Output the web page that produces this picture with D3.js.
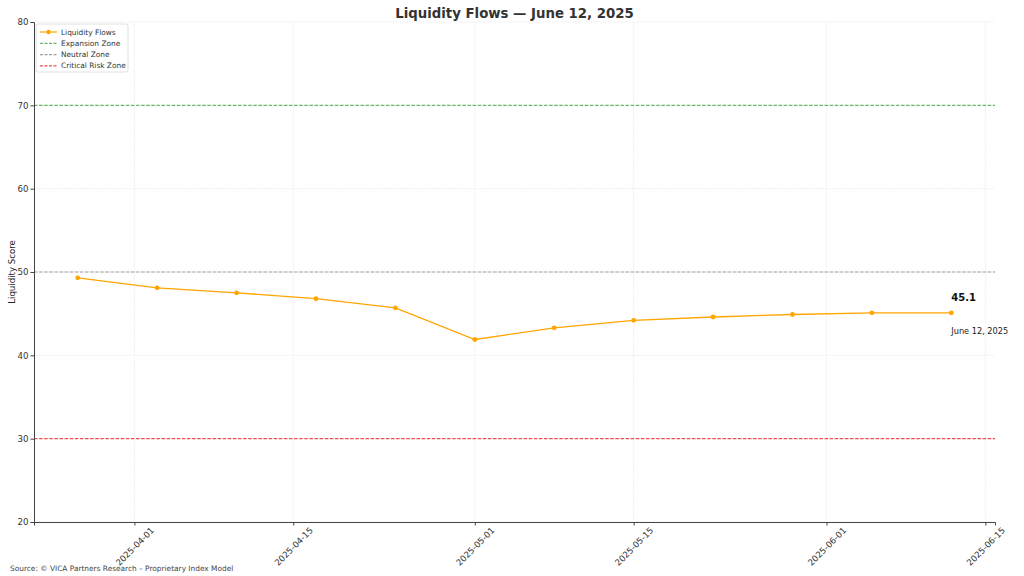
<!DOCTYPE html>
<html>
<head>
<meta charset="utf-8">
<script src="https://cdn.jsdelivr.net/npm/d3@7"></script>
<style>
  html, body { margin: 0; padding: 0; background: #fff; }
  svg { display: block; font-family: "DejaVu Sans", sans-serif; }
</style>
</head>
<body>
<svg id="chart" width="1024" height="576"></svg>
<script>
// ---- data ----
const dates = ["2025-03-27","2025-04-03","2025-04-10","2025-04-17","2025-04-24","2025-05-01",
               "2025-05-08","2025-05-15","2025-05-22","2025-05-29","2025-06-05","2025-06-12"];
const liquidity = [49.3, 48.1, 47.5, 46.8, 45.7, 41.9, 43.3, 44.2, 44.6, 44.9, 45.1, 45.1];
const xTickLabels = ["2025-04-01","2025-04-15","2025-05-01","2025-05-15","2025-06-01","2025-06-15"];
const yTicks = [20, 30, 40, 50, 60, 70, 80];
const zoneNames = ["Expansion Zone", "Neutral Zone", "Critical Risk Zone"];
const zoneValues = [70, 50, 30];
const seriesName = "Liquidity Flows";
const titleText = "Liquidity Flows — June 12, 2025";
const yLabel = "Liquidity Score";
const sourceText = "Source: © VICA Partners Research – Proprietary Index Model";
const lastValueLabel = "45.1";
const lastDateLabel = "June 12, 2025";

(function () {
// ---- layout ----
const svg = d3.select("#chart");
const pL = 34, pR = 995, pT = 22, pB = 522;
const parse = d3.utcParse("%Y-%m-%d");
const first = parse(dates[0]), last = parse(dates[dates.length - 1]);
const pad = (last - first) * 0.05;
const x = d3.scaleUtc().domain([new Date(+first - pad), new Date(+last + pad)]).range([pL, pR]);
const y = d3.scaleLinear().domain([20, 80]).range([pB, pT]);

const zoneColors = ["#66bb66", "#a0a0a0", "#ee5050"];
const lineColor = "#ffa500";

// grid
const g = svg.append("g");
g.selectAll(".vgrid").data(xTickLabels).join("line")
  .attr("x1", d => x(parse(d))).attr("x2", d => x(parse(d)))
  .attr("y1", pT).attr("y2", pB)
  .attr("stroke", "#ebebeb").attr("stroke-width", 0.8).attr("stroke-dasharray", "1.5,0.8");
g.selectAll(".hgrid").data(yTicks).join("line")
  .attr("x1", pL).attr("x2", pR)
  .attr("y1", d => y(d)).attr("y2", d => y(d))
  .attr("stroke", "#ebebeb").attr("stroke-width", 0.8).attr("stroke-dasharray", "1.5,0.8");

// zone lines
g.selectAll(".zone").data(zoneValues).join("line")
  .attr("x1", pL).attr("x2", pR)
  .attr("y1", d => y(d)).attr("y2", d => y(d))
  .attr("stroke", (d, i) => zoneColors[i]).attr("stroke-width", 1.1)
  .attr("stroke-dasharray", "3.5,1.6");

// series line
const pts = dates.map((d, i) => ({ date: parse(d), v: liquidity[i] }));
g.append("path").datum(pts)
  .attr("fill", "none").attr("stroke", lineColor).attr("stroke-width", 1.3)
  .attr("d", d3.line().x(d => x(d.date)).y(d => y(d.v)));
g.selectAll(".pt").data(pts).join("circle")
  .attr("cx", d => x(d.date)).attr("cy", d => y(d.v)).attr("r", 2.4)
  .attr("fill", lineColor);

// axes
const axisColor = "#444";
const yAxis = g.append("g").attr("transform", `translate(${pL},0)`)
  .call(d3.axisLeft(y).tickValues(yTicks).tickSize(3.5).tickPadding(2).tickFormat(d3.format("d")));
yAxis.select(".domain").attr("stroke", axisColor).attr("stroke-width", 1);
yAxis.selectAll(".tick line").attr("stroke", axisColor);
yAxis.selectAll(".tick text").attr("font-size", 8.6).attr("fill", "#333").attr("font-family", "DejaVu Sans");

const xAxis = g.append("g").attr("transform", `translate(0,${pB})`)
  .call(d3.axisBottom(x).tickValues(xTickLabels.map(parse)).tickSize(3.5).tickFormat(d3.utcFormat("%Y-%m-%d")));
xAxis.select(".domain").attr("stroke", axisColor).attr("stroke-width", 1);
xAxis.selectAll(".tick line").attr("stroke", axisColor);
xAxis.selectAll(".tick text")
  .attr("font-size", 8.6).attr("fill", "#333").attr("font-family", "DejaVu Sans")
  .attr("text-anchor", "middle").attr("dominant-baseline", "central")
  .attr("x", 0).attr("y", 0).attr("dy", null)
  .attr("transform", "translate(0,24.5) rotate(-45)");

// title
svg.append("text").attr("x", (pL + pR) / 2).attr("y", 18)
  .attr("text-anchor", "middle").attr("font-size", 13.3).attr("font-weight", "bold")
  .attr("fill", "#333").text(titleText);

// y label
svg.append("text").attr("transform", `translate(15,${(pT + pB) / 2}) rotate(-90)`)
  .attr("text-anchor", "middle").attr("font-size", 8.6).attr("fill", "#222").text(yLabel);

// source
svg.append("text").attr("x", 10).attr("y", 571)
  .attr("font-size", 7.4).attr("fill", "#444").text(sourceText);

// last-value annotation
const lp = pts[pts.length - 1];
svg.append("text").attr("x", x(lp.date)).attr("y", y(lp.v) - 12)
  .attr("font-size", 10).attr("font-weight", "bold").attr("fill", "#111").text(lastValueLabel);
svg.append("text").attr("x", x(lp.date)).attr("y", y(lp.v) + 21)
  .attr("font-size", 8.2).attr("fill", "#222").text(lastDateLabel);

// legend
const lg = svg.append("g").attr("transform", "translate(36,24)");
lg.append("rect").attr("x", 0).attr("y", 0).attr("width", 92).attr("height", 48)
  .attr("rx", 2).attr("fill", "#fff").attr("fill-opacity", 0.85).attr("stroke", "#d8d8d8").attr("stroke-width", 0.8);
const legendItems = [{ name: seriesName, color: lineColor, dash: null, marker: true }]
  .concat(zoneNames.map((n, i) => ({ name: n, color: zoneColors[i], dash: "3,1.5", marker: false })));
legendItems.forEach((it, i) => {
  const yy = 8 + i * 11.3;
  lg.append("line").attr("x1", 4).attr("x2", 21).attr("y1", yy).attr("y2", yy)
    .attr("stroke", it.color).attr("stroke-width", 1.2).attr("stroke-dasharray", it.dash);
  if (it.marker) lg.append("circle").attr("cx", 12.5).attr("cy", yy).attr("r", 2.2).attr("fill", it.color);
  lg.append("text").attr("x", 25).attr("y", yy).attr("dominant-baseline", "central")
    .attr("font-size", 7.4).attr("fill", "#333").text(it.name);
});
})();
</script>
</body>
</html>
